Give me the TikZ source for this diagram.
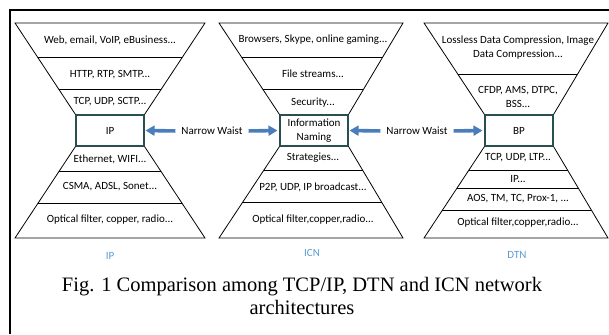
\documentclass[tikz,border=0pt]{standalone}
\usepackage{fontspec}
\setmainfont{Carlito}
\newfontfamily\capfont{Liberation Serif}
\usetikzlibrary{calc,arrows.meta}

\definecolor{boxline}{RGB}{40,80,80}
\definecolor{arrowblue}{RGB}{74,126,187}
\definecolor{labelblue}{RGB}{91,155,213}

\begin{document}
\begin{tikzpicture}[x=1pt, y=-1pt,
        layer/.style={font=\fontsize{11}{14}\selectfont, align=center, inner sep=1pt},
        waist/.style={rectangle, draw=boxline, line width=1.1pt, minimum width=68pt, minimum height=31pt, align=center, inner sep=1pt, font=\fontsize{11}{14}\selectfont},
        edge/.style={line width=0.8pt},
        push/.style={draw=arrowblue, line width=3.6pt, -{Triangle[length=9pt,width=10pt]}},
        archlabel/.style={text=labelblue, font=\fontsize{11}{13}\selectfont},
        caption/.style={align=center, font=\capfont\fontsize{20.5}{23}\selectfont}
    ]
        \useasboundingbox (0,0) rectangle (609,334);
        \draw[line width=1.8pt] (10,334) -- (10,10) -- (609,10);

        % narrow waists
        \node[waist] (ip) at (110,130.5) {IP};
        \node[waist] (icn) at (314,130.5) {Information\\Naming};
        \node[waist] (dtn) at (519,130.5) {BP};

        % hourglass outlines and layer separators
        \foreach \n/\cx/\hw/\tops/\bots in {ip/110/95/{58,90}/{171,203}, icn/311/92/{58,90}/{170,202}, dtn/516/92/{75}/{170,188,210}}{
            \coordinate (\n-tl) at (\cx-\hw,23);
            \coordinate (\n-tr) at (\cx+\hw,23);
            \coordinate (\n-bl) at (\cx-\hw,238);
            \coordinate (\n-br) at (\cx+\hw,238);
            \draw[edge] (\n.north west) -- (\n-tl) -- (\n-tr) -- (\n.north east);
            \draw[edge] (\n.south west) -- (\n-bl) -- (\n-br) -- (\n.south east);
            \foreach \y in \tops
                \draw[edge] ($(\n-tl)!{(\y-23)/92}!(\n.north west)$) -- ($(\n-tr)!{(\y-23)/92}!(\n.north east)$);
            \foreach \y in \bots
                \draw[edge] ($(\n.south west)!{(\y-146)/92}!(\n-bl)$) -- ($(\n.south east)!{(\y-146)/92}!(\n-br)$);
        }

        % IP stack
        \node[layer] (ip-app) at (110,40) {Web, email, VoIP, eBusiness...};
        \node[layer] (ip-ses) at (110,75) {HTTP, RTP, SMTP...};
        \node[layer] (ip-tra) at (110,102) {TCP, UDP, SCTP...};
        \node[layer] (ip-lnk) at (110,159) {Ethernet, WIFI...};
        \node[layer] (ip-mac) at (110,187) {CSMA, ADSL, Sonet...};
        \node[layer] (ip-phy) at (110,220) {Optical filter, copper, radio...};

        % ICN stack
        \node[layer] (icn-app) at (313,40) {Browsers, Skype, online gaming...};
        \node[layer] (icn-ses) at (313,74) {File streams...};
        \node[layer] (icn-sec) at (313,103) {Security...};
        \node[layer] (icn-str) at (313,158) {Strategies...};
        \node[layer] (icn-tra) at (313,187) {P2P, UDP, IP broadcast...};
        \node[layer] (icn-phy) at (313,220) {Optical filter,copper,radio...};

        % DTN stack
        \node[layer] (dtn-app) at (518,48) {Lossless Data Compression, Image\\Data Compression...};
        \node[layer] (dtn-ses) at (518,97) {CFDP, AMS, DTPC,\\BSS...};
        \node[layer] (dtn-tra) at (518,158) {TCP, UDP, LTP...};
        \node[layer] (dtn-net) at (518,179) {IP...};
        \node[layer] (dtn-lnk) at (518,199) {AOS, TM, TC, Prox-1, ...};
        \node[layer] (dtn-phy) at (518,223) {Optical filter,copper,radio...};

        % narrow waist arrows
        \node[layer, inner sep=3pt] (nw-a) at (212,131) {Narrow Waist};
        \node[layer, inner sep=3pt] (nw-b) at (417,131) {Narrow Waist};
        \draw[push, shorten <=3pt, shorten >=1pt] (nw-a.west) -- (ip.east);
        \draw[push, shorten <=3pt, shorten >=2pt] (nw-a.east) -- (icn.west);
        \draw[push, shorten <=3pt, shorten >=1pt] (nw-b.west) -- (icn.east);
        \draw[push, shorten <=3pt, shorten >=2pt] (nw-b.east) -- (dtn.west);

        \node[archlabel] (ip-lbl) at (110,256) {IP};
        \node[archlabel] (icn-lbl) at (312,253) {ICN};
        \node[archlabel] (dtn-lbl) at (517,255) {DTN};

        \node[caption] (cap) at (302,296) {Fig. 1 Comparison among TCP/IP, DTN and ICN network\\architectures};
    \end{tikzpicture}
\end{document}
